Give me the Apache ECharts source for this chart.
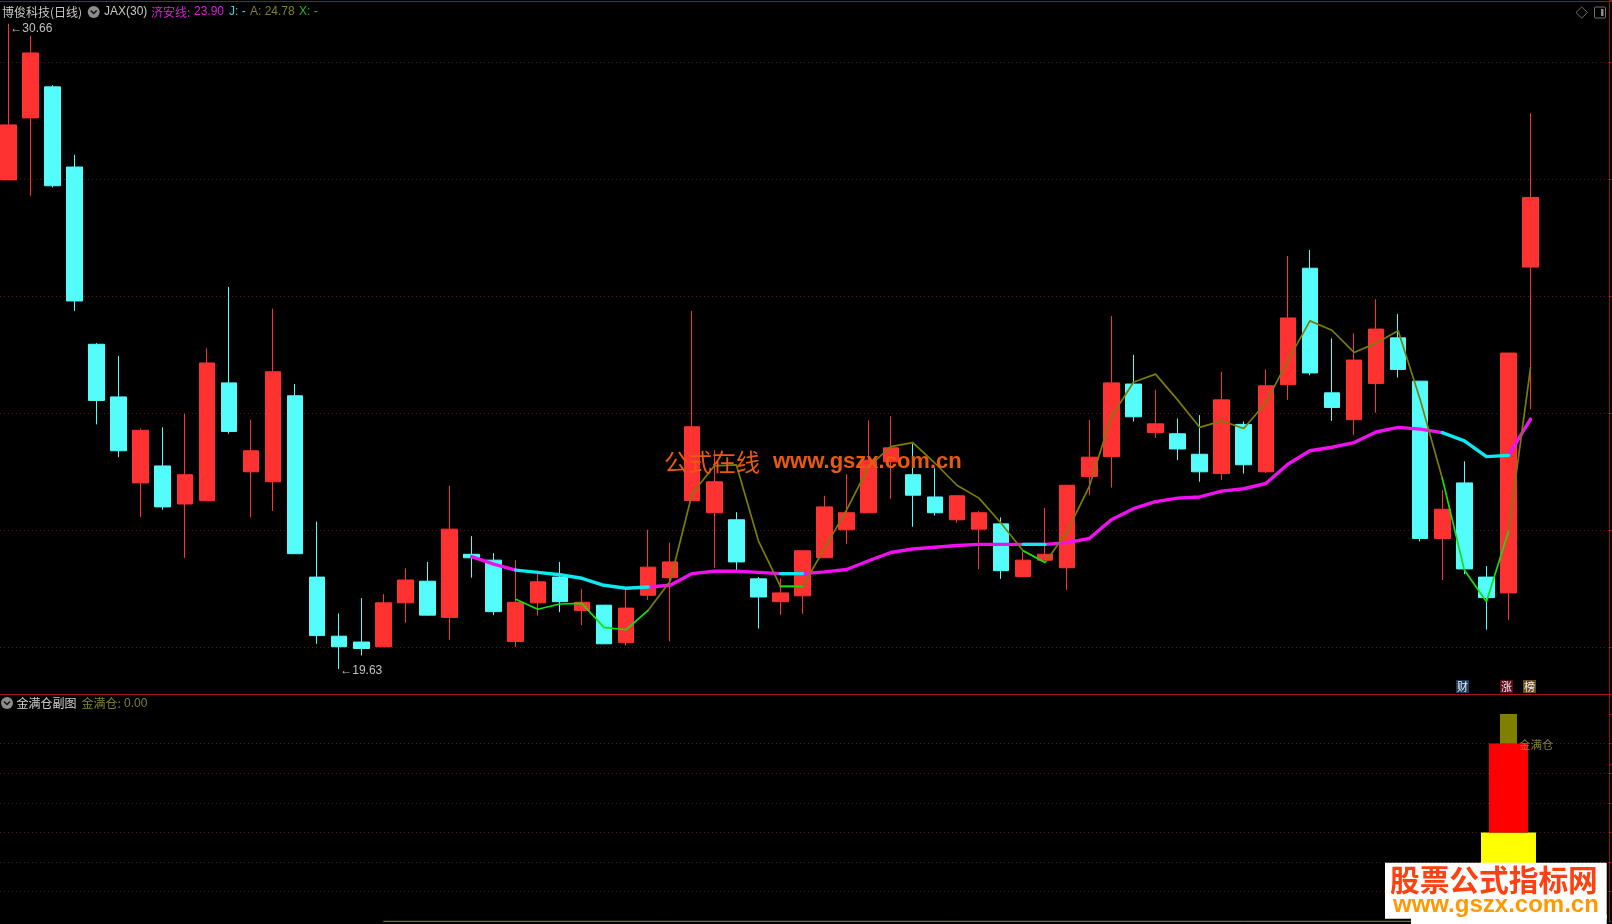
<!DOCTYPE html>
<html>
<head>
<meta charset="utf-8">
<style>html,body{margin:0;padding:0;background:#000;overflow:hidden}#c{width:1612px;height:924px}</style>
<script src="https://cdn.jsdelivr.net/npm/echarts@6/dist/echarts.min.js"></script>
</head>
<body>
<div id="c"></div>
<script>
const opens =[27.99,29.05,29.58,28.21,25.18,24.28,22.81,23.10,22.45,22.51,24.52,23.00,22.83,24.30,21.20,20.19,20.09,20.01,20.76,21.13,20.51,21.59,21.49,20.10,20.76,21.20,20.63,20.72,20.08,20.89,21.19,22.51,22.30,22.18,21.17,20.78,20.88,21.53,22.01,22.30,23.17,22.95,22.57,22.18,22.02,22.11,21.21,21.49,21.36,22.92,23.26,24.50,23.67,23.65,23.30,22.97,23.81,23.00,24.49,26.48,24.35,23.89,24.51,25.29,24.55,21.86,22.81,21.20,20.93,26.50];
const closes=[28.93,30.16,27.89,25.92,24.22,23.36,23.71,22.40,22.95,24.86,23.69,23.36,24.71,21.60,20.20,20.01,19.98,20.76,21.15,20.55,22.02,21.53,20.61,20.77,21.12,20.78,20.77,20.06,20.67,21.37,21.46,23.77,22.83,21.46,20.86,20.93,21.65,22.40,22.30,23.20,23.41,22.60,22.30,22.59,22.30,21.31,21.49,21.59,22.77,23.25,24.52,23.94,23.82,23.39,23.00,24.23,23.12,24.47,25.63,24.69,24.10,24.91,25.44,24.75,21.86,22.36,21.34,20.85,25.03,27.69];
const lows  =[27.99,27.72,27.86,25.75,23.81,23.25,22.23,22.35,21.53,22.51,23.65,22.22,22.33,21.60,20.06,19.63,19.86,20.01,20.42,20.54,20.13,21.19,20.55,20.01,20.54,20.60,20.38,20.06,20.03,20.81,20.10,22.51,21.36,21.32,20.32,20.55,20.57,21.53,21.77,22.30,22.54,22.06,22.25,22.13,21.34,21.17,21.21,21.49,20.98,22.60,22.73,23.86,23.58,23.20,22.83,22.86,22.97,22.98,24.23,24.65,23.87,23.63,24.01,24.61,21.81,21.15,21.25,20.30,20.47,24.07];
const highs =[30.66,30.45,29.61,28.42,25.20,24.98,23.74,23.76,23.99,25.11,26.16,23.89,25.79,24.50,22.15,20.58,20.84,20.91,21.35,21.46,22.76,21.90,21.61,21.49,21.31,21.46,21.00,20.72,20.99,22.01,21.79,25.75,23.37,22.31,21.20,21.18,21.65,22.59,22.96,23.88,23.95,23.48,23.06,22.60,22.33,22.22,21.63,22.38,22.77,23.89,25.66,25.00,24.40,23.91,23.97,24.71,23.86,24.75,26.69,26.79,25.28,25.37,25.95,25.70,24.55,22.69,23.18,21.39,25.03,29.13];
// 济安线, first value belongs to candle 21
const jianStart=21;
const jianValues=[21.55,21.42,21.32,21.28,21.24,21.18,21.06,21.01,21.03,21.06,21.26,21.30,21.30,21.28,21.26,21.26,21.29,21.33,21.48,21.62,21.68,21.71,21.74,21.76,21.76,21.76,21.76,21.79,21.86,22.18,22.37,22.49,22.55,22.57,22.67,22.71,22.80,23.13,23.36,23.42,23.50,23.68,23.76,23.73,23.67,23.53,23.26,23.28,23.90];
// A line, first value belongs to candle 23
const aStart=23;
const aValues=[20.82,20.65,20.74,20.75,20.34,20.30,20.63,21.13,22.63,23.10,23.12,21.82,21.04,21.04,21.69,22.35,23.09,23.43,23.50,23.15,22.77,22.55,22.12,21.65,21.45,21.98,22.75,23.94,24.53,24.67,24.23,23.76,23.87,23.74,24.18,24.90,25.58,25.42,25.04,25.20,25.41,24.23,22.89,21.32,20.78,21.98,24.78];
// candle index ranges where the lines switch to their second colour
const altRanges=[[23,29],[35,36],[46,47],[65,68]];
const priceMin=18, priceMax=31.065, priceStep=2;
const slotMin=-0.376, slotMax=72.57;
const subIndex=68;
const subLow=[0,3,6], subHigh=[3,6,7];
const subColors=['#ffff00','#ff0000','#808000'];
const subWidths=[55,39,17];
const subBaseStart=17, subBaseEnd=69, subBaseValue=0;

const FONT='"Liberation Sans","Noto Sans CJK SC",sans-serif';
const CJK='"Noto Sans CJK SC","Liberation Sans",sans-serif';
const candleData=opens.map((o,i)=>[i,o,closes[i],lows[i],highs[i]]);
const inAlt=i=>altRanges.some(r=>i>=r[0]&&i<=r[1]);
const innerAlt=i=>altRanges.some(r=>i>r[0]&&i<r[1]);
function pad(values,start){const a=opens.map(()=>null);values.forEach((v,k)=>a[start+k]=v);return a;}
const jianAll=pad(jianValues,jianStart), aAll=pad(aValues,aStart);
const pick=(arr,test)=>arr.map((v,i)=>[i,test(i)?v:null]);
function lineS(data,color,width,z){return {type:'line',xAxisIndex:0,yAxisIndex:0,data,symbol:'none',z,silent:true,connectNulls:false,
  lineStyle:{color,width,join:'round',cap:'round'},itemStyle:{color}};}

function txt(x,y,text,fill,size,font,weight){return {type:'text',x,y,z:50,silent:true,style:{text,fill,font:(weight?weight+' ':'')+size+'px '+(font||CJK),verticalAlign:'middle',align:'left'}};}
function icon(cx,cy){return [
 {type:'circle',shape:{cx,cy,r:6},style:{fill:'#8c8c8c'},z:50,silent:true},
 {type:'polyline',shape:{points:[[cx-3,cy-1.5],[cx,cy+1.5],[cx+3,cy-1.5]]},style:{stroke:'#111',lineWidth:1.5,fill:null},z:51,silent:true}];}
function tag(x,y,w,h,bg,t){return [
 {type:'rect',shape:{x,y,width:w,height:h},style:{fill:bg},z:50,silent:true},
 {type:'text',x:x+w/2,y:y+h/2,z:51,silent:true,style:{text:t,fill:'#f0f0f0',font:'11px '+CJK,align:'center',verticalAlign:'middle'}}];}
function hline(x1,x2,y,c){return {type:'line',shape:{x1,y1:y,x2,y2:y},style:{stroke:c,lineWidth:1},z:40,silent:true};}

const graphicEls=[
 hline(0,1612,1.5,'#8b1a1a'),
 hline(0,1612,694.5,'#a01818'),
 txt(2,12,'博俊科技(日线)','#c8c8c8',12),
 ...icon(93.7,12),
 txt(104,12,'JAX(30)','#c8c8c8',12,FONT),
 txt(151,12,'济安线:','#d820d8',12),
 txt(194,12,'23.90','#d820d8',12,FONT),
 txt(229,12,'J: -','#40d8d8',12,FONT),
 txt(250,12,'A: 24.78','#808030',12,FONT),
 txt(299,12,'X: -','#30b030',12,FONT),
 {type:'polygon',shape:{points:[[1581.7,7],[1587.5,12.5],[1581.7,18],[1576,12.5]]},style:{stroke:'#707070',fill:null,lineWidth:1},z:50,silent:true},
 {type:'rect',shape:{x:1594.5,y:7,width:11,height:11,r:1},style:{stroke:'#707070',fill:null,lineWidth:1},z:50,silent:true},
 {type:'rect',shape:{x:1601,y:9,width:2.5,height:7},style:{fill:'#8c8c8c'},z:50,silent:true},
 ...icon(7,703),
 txt(16.5,703.5,'金满仓副图','#d0d0d0',12),
 txt(81.6,703.5,'金满仓:','#808030',12),
 txt(124,703.5,'0.00','#808030',12,FONT),
 txt(1519,744.5,'金满仓','#808030',11.5),
 ...tag(1456,680,13,13,'#1c3c5e','财'),
 ...tag(1500,680,13,13,'#5c0a16','涨'),
 ...tag(1523,680,13,13,'#6c4a20','榜'),
 txt(664,462,'公式在线','#e85a10',24),
 txt(773,462,'www.gszx.com.cn','#e85a10',22,FONT,'bold'),
 {type:'rect',shape:{x:1385,y:862.7,width:221.7,height:56},style:{fill:'#fff'},z:60,silent:true},
 {type:'rect',shape:{x:1411,y:915,width:195.7,height:9},style:{fill:'#fff'},z:60,silent:true},
 Object.assign(txt(1390,880,'股票公式指标网','#ff4010',29.7,CJK,'bold'),{z:61}),
 Object.assign(txt(1393,905.5,'www.gszx.com.cn','#ff9900',24,FONT,'bold'),{z:61})
];

const hiddenX=(g)=>({type:'value',gridIndex:g,min:slotMin,max:slotMax,axisLine:{show:false,onZero:false},axisTick:{show:false},axisLabel:{show:false},splitLine:{show:false}});
const yStyle=(g,min,max,step)=>({type:'value',gridIndex:g,position:'right',min,max,interval:step,
   axisLine:{show:true,onZero:false,lineStyle:{color:'#8b1a1a'}},axisTick:{show:true,length:3,lineStyle:{color:'#8b1a1a'}},axisLabel:{show:false},
   splitLine:{show:true,showMinLine:false,showMaxLine:false,lineStyle:{color:'#601616',type:[1,3],width:1}}});

const chart=echarts.init(document.getElementById('c'),null,{renderer:'canvas'});
chart.setOption({
 animation:false,
 backgroundColor:'#000',
 grid:[
  {left:0,top:0,width:1609.3,height:764.3},
  {left:0,top:714,width:1609.3,height:207.3}
 ],
 xAxis:[hiddenX(0),hiddenX(1)],
 yAxis:[yStyle(0,priceMin,priceMax,priceStep),yStyle(1,0,7,1)],
 series:[
  {type:'candlestick',xAxisIndex:0,yAxisIndex:0,data:candleData,barWidth:16,z:5,silent:true,
   encode:{x:0,y:[1,2,3,4]},
   itemStyle:{color:'#ff3232',color0:'#54fcfc',borderColor:'#ff3232',borderColor0:'#54fcfc',borderWidth:1},
   markPoint:{silent:true,symbol:'circle',symbolSize:0,animation:false,
    data:[
     {coord:[0,highs[0]],value:highs[0],label:{offset:[2,5]}},
     {coord:[15,lows[15]],value:lows[15],label:{offset:[1,2]}}
    ],
    label:{show:true,position:'right',distance:0,color:'#c0c0c0',fontSize:12,fontFamily:FONT,formatter:p=>'←'+p.value.toFixed(2)}}},
  lineS(pick(jianAll,i=>jianAll[i]!==null&&!innerAlt(i)),'#f010f0',3.4,10),
  lineS(pick(jianAll,i=>jianAll[i]!==null&&inAlt(i)),'#10e8f0',3.4,11),
  lineS(pick(aAll,i=>aAll[i]!==null&&!innerAlt(i)),'#7c7c08',1.7,12),
  lineS(pick(aAll,i=>aAll[i]!==null&&inAlt(i)),'#10e010',1.7,13),
  {type:'custom',xAxisIndex:1,yAxisIndex:1,z:5,silent:true,clip:false,
   data:subLow.map((l,k)=>[subIndex,l,subHigh[k],k]),
   encode:{x:0,y:[1,2]},
   renderItem:(params,api)=>{
    const k=api.value(3), a=api.coord([api.value(0),api.value(1)]), b=api.coord([api.value(0),api.value(2)]), w=subWidths[k];
    return {type:'rect',shape:{x:a[0]-w/2,y:b[1],width:w,height:a[1]-b[1]},style:{fill:subColors[k]}};
   }},
  {type:'line',xAxisIndex:1,yAxisIndex:1,symbol:'none',z:6,silent:true,clip:false,
   data:[[subBaseStart,subBaseValue],[subBaseEnd,subBaseValue]],
   lineStyle:{color:'#8c8c60',width:1}}
 ],
 graphic:{elements:graphicEls}
});
</script>
</body>
</html>
